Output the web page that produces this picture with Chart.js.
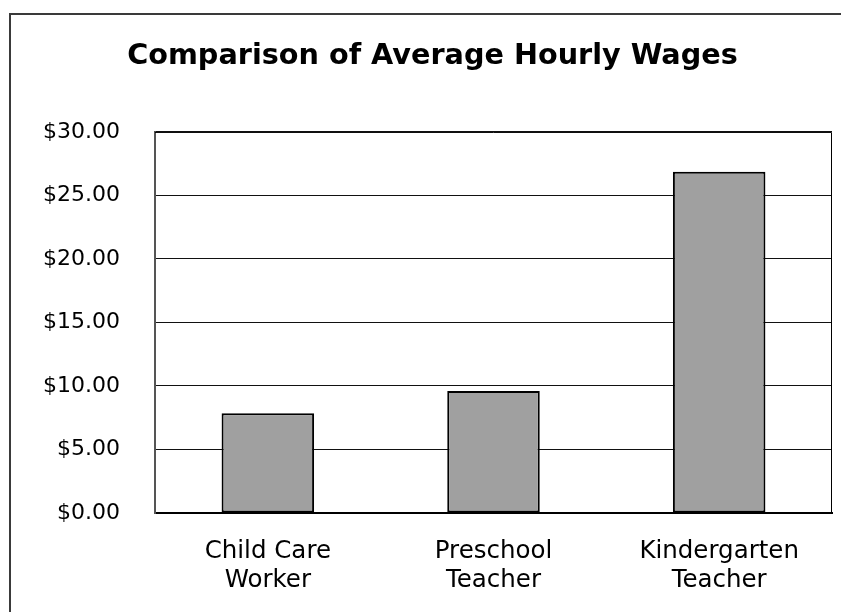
<!DOCTYPE html>
<html>
<head>
<meta charset="utf-8">
<script src="https://cdn.jsdelivr.net/npm/chart.js@4/dist/chart.umd.min.js"></script>
<style>
html,body{margin:0;padding:0;width:841px;height:612px;overflow:hidden;background:#fff;}
#frame{position:absolute;left:9px;top:13px;border-left:2px solid #3a3a3a;border-top:2px solid #3a3a3a;width:860px;height:620px;}
canvas{display:block;}
</style>
</head>
<body>
<div id="frame"><canvas id="c" width="843" height="606"></canvas></div>
<script>
const chartTitle = 'Comparison of Average Hourly Wages';
const categories = [['Child Care', 'Worker'], ['Preschool', 'Teacher'], ['Kindergarten', 'Teacher']];
const wages = [7.85, 9.6, 26.87];
const yTickValues = [0, 5, 10, 15, 20, 25, 30];
const yTickLabels = ['$0.00', '$5.00', '$10.00', '$15.00', '$20.00', '$25.00', '$30.00'];

const plotBorder = {
  id: 'plotBorder',
  afterDatasetsDraw(chart) {
    const a = chart.chartArea, ctx = chart.ctx;
    ctx.save();
    ctx.strokeStyle = '#000';
    ctx.lineWidth = 1;
    ctx.beginPath();
    ctx.moveTo(a.left, a.top + 0.5);
    ctx.lineTo(a.right - 0.5, a.top + 0.5);
    ctx.lineTo(a.right - 0.5, a.bottom);
    ctx.stroke();
    ctx.restore();
  }
};

new Chart(document.getElementById('c'), {
  type: 'bar',
  data: {
    labels: categories,
    datasets: [{
      data: wages,
      backgroundColor: '#a0a0a0',
      borderColor: '#000',
      borderWidth: 2,
      borderSkipped: false,
      categoryPercentage: 1,
      barPercentage: 0.41
    }]
  },
  options: {
    responsive: false,
    animation: false,
    devicePixelRatio: 1,
    layout: { padding: 0 },
    plugins: {
      legend: { display: false },
      tooltip: { enabled: false },
      title: {
        display: true,
        text: chartTitle,
        color: '#000',
        font: { family: 'DejaVu Sans', size: 28.7, weight: 'bold', lineHeight: 1.2 },
        padding: { top: 24, bottom: 58.5 }
      }
    },
    scales: {
      x: {
        grid: { display: false },
        border: { display: true, color: '#000', width: 2 },
        ticks: {
          color: '#000',
          font: { family: 'DejaVu Sans', size: 24.5, lineHeight: 1.15 },
          padding: 17,
          maxRotation: 0
        },
        afterFit(scale) { scale.height = 108; }
      },
      y: {
        min: 0,
        max: 30,
        afterBuildTicks(scale) { scale.ticks = yTickValues.map(v => ({ value: v })); },
        grid: { color: '#111', lineWidth: 1, drawTicks: false },
        border: { display: true, color: '#555', width: 2 },
        ticks: {
          color: '#000',
          font: { family: 'DejaVu Sans', size: 22 },
          padding: 35,
          callback: (v) => yTickLabels[yTickValues.indexOf(v)]
        },
        afterFit(scale) { scale.width = 144; }
      },
      yRight: {
        position: 'right',
        min: 0,
        max: 30,
        grid: { display: false, drawTicks: false },
        border: { display: false },
        ticks: { display: false },
        afterFit(scale) { scale.width = 22; }
      }
    }
  },
  plugins: [plotBorder]
});
</script>
</body>
</html>
